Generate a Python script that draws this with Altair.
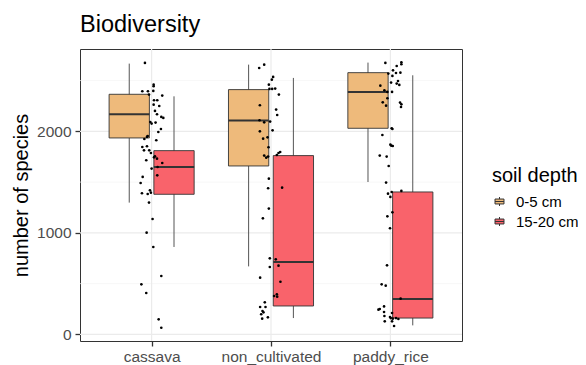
import altair as alt
import pandas as pd

# ---------------- data ----------------
categories = ["cassava", "non_cultivated", "paddy_rice"]
depths = ["0-5 cm", "15-20 cm"]
depth_colors = ["#EEBA7B", "#F9636B"]

box_category = ["cassava", "cassava", "non_cultivated", "non_cultivated", "paddy_rice", "paddy_rice"]
box_depth = ["0-5 cm", "15-20 cm", "0-5 cm", "15-20 cm", "0-5 cm", "15-20 cm"]
whisker_low = [1298, 861, 670, 161, 1501, 89]
q1 = [1935, 1380, 1659, 280, 2030, 161]
median = [2168, 1649, 2106, 713, 2388, 349]
q3 = [2365, 1810, 2411, 1761, 2578, 1403]
whisker_high = [2667, 2345, 2657, 2526, 2677, 2552]

cassava_values = [2674, 2395, 2395, 2460, 2444, 2398, 2362, 2352, 2306, 2306,
                  2263, 2250, 2201, 2168, 2142, 2132, 2092, 2086, 2076, 2023,
                  1994, 1954, 1945, 1925, 1912, 1846, 1853, 1813, 1813, 1787,
                  1754, 1744, 1715, 1731, 1688, 1649, 1633, 1567, 1551, 1491,
                  1419, 1390, 1383, 1396, 1298, 1137, 1002, 861, 575, 493,
                  408, 148, 66]
cassava_jitter = [-0.056, -0.078, -0.031, 0.017, 0.017, 0.014, -0.022, 0.089, 0.020, 0.047,
                  0.017, 0.064, 0.028, 0.045, 0.081, 0.098, -0.011, 0.033, 0.0, 0.078,
                  0.056, -0.033, -0.039, -0.061, 0.039, -0.078, -0.039, -0.020, -0.064, -0.006,
                  0.028, 0.020, -0.045, 0.045, 0.089, 0.050, 0.0, 0.047, -0.075, -0.092,
                  -0.014, -0.081, -0.033, -0.006, -0.022, 0.008, -0.042, 0.014, 0.081, -0.086,
                  -0.045, 0.059, 0.081]

noncult_values = [2624, 2657, 2536, 2509, 2460, 2418, 2418, 2421, 2362, 2257,
                  2214, 2161, 2109, 2089, 2096, 2010, 2000, 1928, 1941, 1843,
                  1761, 1741, 1751, 1767, 1787, 1797, 1534, 1445, 1439, 1239,
                  1143, 749, 739, 664, 677, 559, 519, 378, 395, 372,
                  316, 270, 270, 230, 198, 217, 168, 155]
noncult_jitter = [-0.099, -0.057, 0.018, 0.007, -0.018, -0.013, 0.010, 0.035, 0.066, -0.093,
                  0.043, 0.052, -0.096, -0.057, -0.007, 0.013, -0.093, -0.066, -0.029, -0.021,
                  -0.057, -0.040, -0.024, 0.049, 0.063, 0.077, -0.018, 0.093, -0.024, -0.018,
                  -0.068, -0.010, 0.040, -0.010, 0.063, -0.091, 0.079, 0.026, 0.049, 0.052,
                  -0.052, -0.091, -0.046, -0.071, -0.082, -0.063, -0.026, -0.074]

paddy_values = [2674, 2644, 2680, 2661, 2601, 2578, 2575, 2569, 2546, 2496,
                2480, 2470, 2450, 2404, 2388, 2388, 2457, 2326, 2283, 2266,
                2240, 2286, 2253, 2030, 2023, 1964, 1869, 1856, 1859, 1761,
                1751, 1659, 1495, 1386, 1403, 1354, 1413, 1202, 1163, 1045,
                680, 493, 480, 352, 244, 276, 250, 221, 211, 181,
                161, 155, 161, 152, 129, 129, 83, 171]
paddy_jitter = [-0.042, 0.053, 0.092, 0.092, 0.022, 0.084, 0.047, -0.017, 0.017, 0.064,
                0.006, 0.053, -0.084, -0.050, -0.025, 0.014, 0.075, -0.025, 0.081, 0.092,
                0.089, -0.064, -0.036, 0.011, 0.017, -0.067, 0.0, 0.020, 0.008, -0.089,
                -0.031, -0.014, -0.036, -0.020, 0.011, 0.0, 0.092, 0.017, -0.025, -0.003,
                -0.028, -0.073, -0.039, 0.086, -0.100, -0.053, -0.089, -0.053, 0.014, -0.050,
                0.003, 0.020, 0.047, 0.067, -0.047, 0.014, 0.031, -0.003]

y_major = [0, 1000, 2000]
y_minor = [500, 1500, 2500]

# ---------------- tables ----------------
FONT = "Liberation Sans"
DODGE = 0.1875
HALF_BOX = 0.16875

box_df = pd.DataFrame({
    "category": box_category, "depth": box_depth,
    "lo": whisker_low, "q1": q1, "med": median, "q3": q3, "hi": whisker_high,
})
box_df["pos"] = [categories.index(c) + 1 + (DODGE if d == depths[1] else -DODGE)
                 for c, d in zip(box_df["category"], box_df["depth"])]
box_df["left"] = box_df["pos"] - HALF_BOX
box_df["right"] = box_df["pos"] + HALF_BOX

pts = []
for cat, vals, jit in [("cassava", cassava_values, cassava_jitter),
                       ("non_cultivated", noncult_values, noncult_jitter),
                       ("paddy_rice", paddy_values, paddy_jitter)]:
    assert len(vals) == len(jit)
    for v, j in zip(vals, jit):
        pts.append({"category": cat, "species": v, "pos": categories.index(cat) + 1 + j})
pts_df = pd.DataFrame(pts)

grid_major_y = pd.DataFrame({"v": y_major})
grid_minor_y = pd.DataFrame({"v": y_minor})
grid_major_x = pd.DataFrame({"v": [i + 1 for i in range(len(categories))]})

# ---------------- scales / axes ----------------
xscale = alt.Scale(domain=[0.4, 3.6], nice=False, zero=False)
yscale = alt.Scale(domain=[-65, 2811], nice=False, zero=False)

label_expr = "[" + ",".join("'%s'" % c for c in categories) + "][datum.value - 1]"
xaxis = alt.Axis(values=[1, 2, 3], labelExpr=label_expr, grid=False, domain=False,
                 tickSize=5, tickWidth=1.3, tickColor="#333333",
                 labelColor="#4D4D4D", labelFontSize=15.5, labelFont=FONT,
                 labelPadding=15, labelBaseline="alphabetic", labelFlush=False)
yaxis = alt.Axis(values=y_major, format="d", grid=False, domain=False,
                 tickSize=5, tickWidth=1.3, tickColor="#333333",
                 labelColor="#4D4D4D", labelFontSize=15.5, labelFont=FONT,
                 labelPadding=4, labelFlush=False,
                 titleFontSize=20, titleFont=FONT, titleFontWeight="normal",
                 titleColor="black", titleX=-53, titleBaseline="alphabetic")


def X(field):
    return alt.X(field, type="quantitative", scale=xscale, axis=xaxis, title="")


def Y(field):
    return alt.Y(field, type="quantitative", scale=yscale, axis=yaxis,
                 title="number of species")


minor = alt.Chart(grid_minor_y).mark_rule(color="#F4F4F4", strokeWidth=0.7).encode(y=Y("v"))
major_y = alt.Chart(grid_major_y).mark_rule(color="#EBEBEB", strokeWidth=1.2).encode(y=Y("v"))
major_x = alt.Chart(grid_major_x).mark_rule(color="#EBEBEB", strokeWidth=1.2).encode(x=X("v"))

whiskers = alt.Chart(box_df).mark_rule(color="#555555", strokeWidth=1).encode(
    x=X("pos"), y=Y("lo"), y2="hi")

legend_symbol = "M-1,-0.55H1V0.55H-1Z M-1,0H1 M0,-0.55V-1 M0,0.55V1"
boxes = alt.Chart(box_df).mark_rect(stroke="#333333", strokeWidth=0.9).encode(
    x=X("left"), x2="right", y=Y("q1"), y2="q3",
    fill=alt.Fill("depth:N", scale=alt.Scale(domain=depths, range=depth_colors),
                  legend=alt.Legend(title="soil depth", orient="none",
                                    legendX=412, legendY=117, padding=0,
                                    titleFontSize=20, titleFont=FONT,
                                    titleFontWeight="normal", titleColor="black",
                                    titlePadding=8,
                                    labelFontSize=15, labelFont=FONT, labelColor="black",
                                    labelOffset=9, rowPadding=4,
                                    symbolType=legend_symbol, symbolSize=80,
                                    symbolStrokeColor="#333333", symbolStrokeWidth=1,
                                    symbolOpacity=1)))

medians = alt.Chart(box_df).mark_rule(color="#333333", strokeWidth=2).encode(
    x=X("left"), x2="right", y=Y("med"))

points = alt.Chart(pts_df).mark_circle(size=7, color="black", opacity=1).encode(
    x=X("pos"), y=Y("species"))

chart = alt.layer(minor, major_y, major_x, whiskers, boxes, medians, points).properties(
    width=382, height=292,
    title=alt.TitleParams("Biodiversity", anchor="start", frame="group", fontSize=23.5,
                          font=FONT, fontWeight="normal", color="black", offset=16,
                          baseline="alphabetic", dy=23),
    padding={"left": 72, "top": 41, "right": 116, "bottom": 24},
    autosize=alt.AutoSizeParams(type="none"),
).configure_view(stroke="#333333", strokeWidth=1)

chart.save("out.html", embed_options={"renderer": "svg", "actions": False})
